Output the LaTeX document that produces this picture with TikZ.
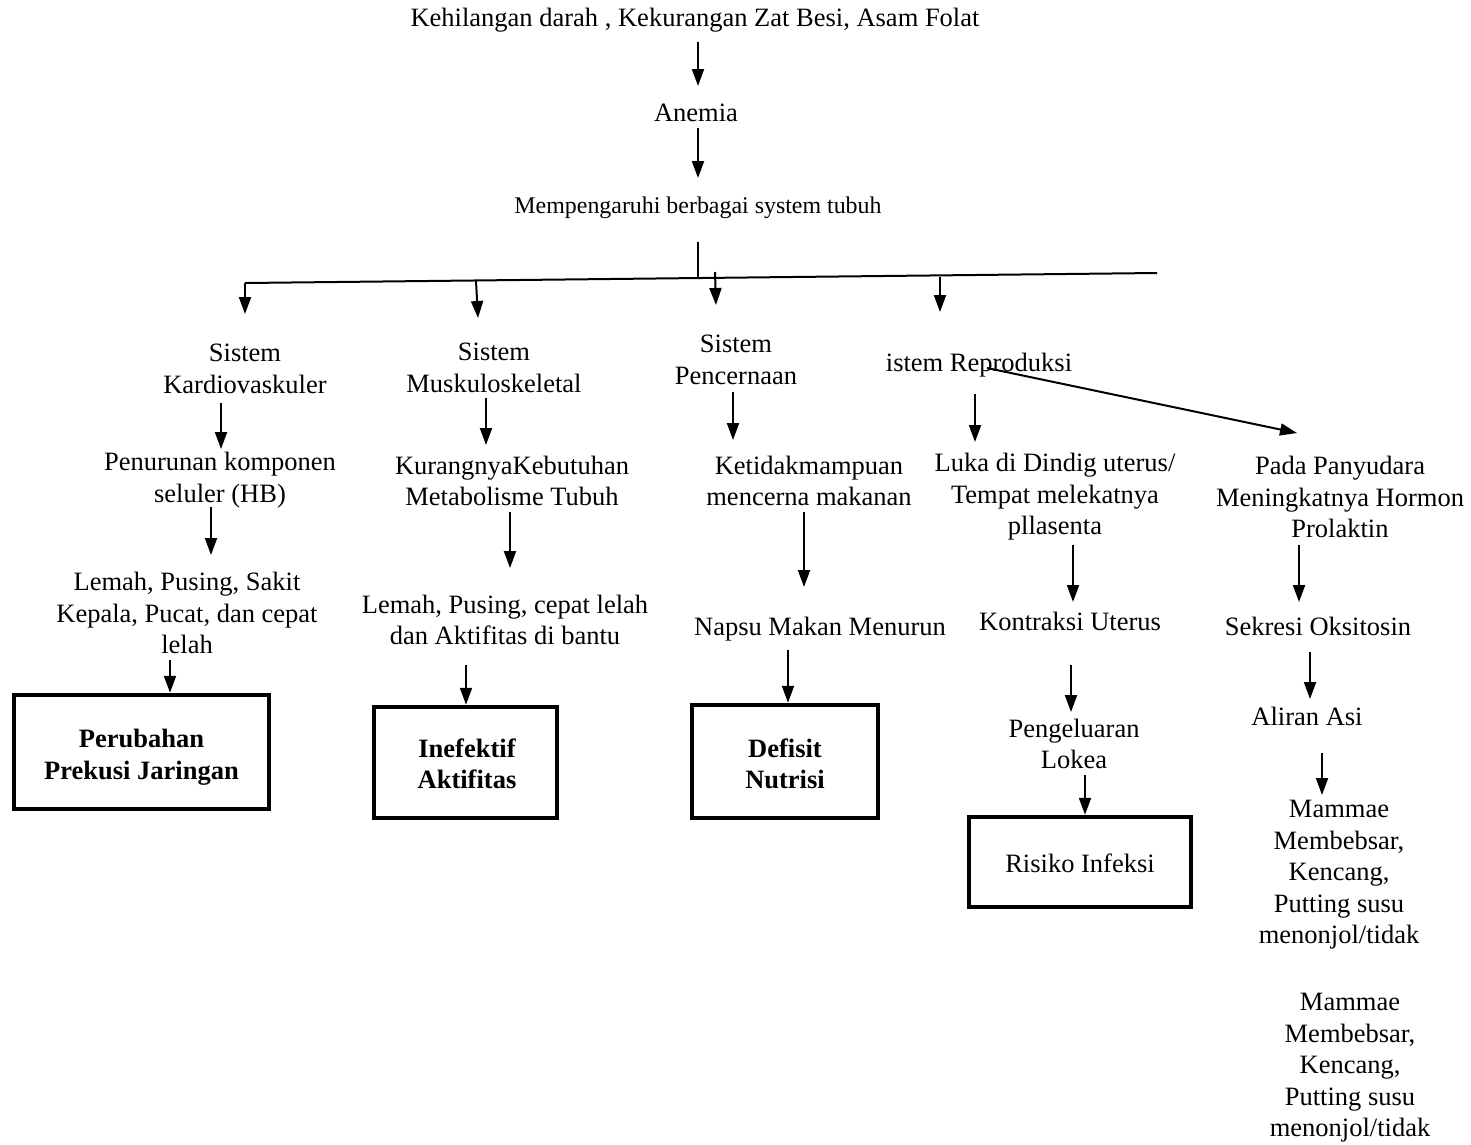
\documentclass[tikz,border=0pt]{standalone}
\usepackage{fontspec}
\setmainfont{Liberation Serif}
\usetikzlibrary{arrows.meta}
\begin{document}
\begin{tikzpicture}[x=1pt,y=-1pt,
  lbl/.style={align=center,inner sep=0pt,font=\fontsize{26.5}{31.5}\selectfont},
  small/.style={align=center,inner sep=0pt,font=\fontsize{23.9}{28}\selectfont},
  boxnode/.style={draw,line width=4.5pt,inner sep=0pt},
  arr/.style={line width=2pt,-{Triangle[length=17pt,width=12pt]}},
  ln/.style={line width=2pt}]
\useasboundingbox (0,0) rectangle (1471,1144);

% texts
\node[lbl] (t1) at (695,20) {Kehilangan darah , Kekurangan Zat Besi, Asam Folat};
\node[lbl] (t2) at (696,113) {Anemia};
\node[small] (t3) at (698,208) {Mempengaruhi berbagai system tubuh};

\node[lbl] (s1) at (245,369) {Sistem\\Kardiovaskuler};
\node[lbl] (s2) at (494,368) {Sistem\\Muskuloskeletal};
\node[lbl] (s3) at (736,360) {Sistem\\Pencernaan};
\node[lbl] (s4) at (979,365) {istem Reproduksi};

\node[lbl] (a1) at (220,480) {Penurunan komponen\\seluler (HB)};
\node[lbl] (a2) at (512,481) {KurangnyaKebutuhan\\Metabolisme Tubuh};
\node[lbl] (a3) at (809,481) {Ketidakmampuan\\mencerna makanan};
\node[lbl] (a4) at (1055,497) {Luka di Dindig uterus/\\Tempat melekatnya\\pllasenta};
\node[lbl] (a5) at (1340,497) {Pada Panyudara\\Meningkatnya Hormon\\Prolaktin};

\node[lbl] (b1) at (187,613) {Lemah, Pusing, Sakit\\Kepala, Pucat, dan cepat\\lelah};
\node[lbl] (b2) at (505,620) {Lemah, Pusing, cepat lelah\\dan Aktifitas di bantu};
\node[lbl] (b3) at (820,629) {Napsu Makan Menurun};
\node[lbl] (b4) at (1070,621) {Kontraksi Uterus};
\node[lbl] (b5) at (1318,626) {Sekresi Oksitosin};

\node[boxnode,minimum width=255pt,minimum height=114pt] (c1) at (141.5,752) {};
\node[lbl,font=\fontsize{26.5}{31.5}\selectfont\bfseries] (c1t) at (141.5,757) {Perubahan\\Prekusi Jaringan};
\node[boxnode,minimum width=183pt,minimum height=111pt] (c2) at (465.5,762.5) {};
\node[lbl,font=\fontsize{26.5}{31.5}\selectfont\bfseries] (c2t) at (467,764) {Inefektif\\Aktifitas};
\node[boxnode,minimum width=186pt,minimum height=113pt] (c3) at (785,761.5) {};
\node[lbl,font=\fontsize{26.5}{31.5}\selectfont\bfseries] (c3t) at (785,764) {Defisit\\Nutrisi};

\node[lbl] (d4) at (1074,744) {Pengeluaran\\Lokea};
\node[boxnode,minimum width=222pt,minimum height=90pt] (c4) at (1080,862) {};
\node[lbl] (c4t) at (1080,863) {Risiko Infeksi};

\node[lbl] (d5) at (1307,716) {Aliran Asi};
\node[lbl] (e5) at (1339,875) {Mammae\\Membebsar,\\Kencang,\\Putting susu\\menonjol/tidak};
\node[lbl] (f5) at (1350,1068) {Mammae\\Membebsar,\\Kencang,\\Putting susu\\menonjol/tidak};

% coordinates
\coordinate (p1a) at (698,42);  \coordinate (p1b) at (698,86);
\coordinate (p2a) at (698,128); \coordinate (p2b) at (698,178);
\coordinate (stemT) at (698,242); \coordinate (stemB) at (698,277);
\coordinate (hL) at (245,283); \coordinate (hR) at (1157,273);
\coordinate (h1) at (245,314); \coordinate (h1s) at (245,283);
\coordinate (h2s) at (476,281); \coordinate (h2) at (478,318);
\coordinate (h3s) at (715,272); \coordinate (h3) at (716,305);
\coordinate (h4s) at (940,277); \coordinate (h4) at (940,312);

\coordinate (q1a) at (221,403); \coordinate (q1b) at (221,449);
\coordinate (q2a) at (486,398); \coordinate (q2b) at (486,445);
\coordinate (q3a) at (733,392); \coordinate (q3b) at (733,440);
\coordinate (q4a) at (975,394); \coordinate (q4b) at (975,442);
\coordinate (q5a) at (987,368); \coordinate (q5b) at (1297,433);

\coordinate (r1a) at (211,507); \coordinate (r1b) at (211,555);
\coordinate (r2a) at (510,512); \coordinate (r2b) at (510,568);
\coordinate (r3a) at (804,512); \coordinate (r3b) at (804,587);
\coordinate (r4a) at (1073,545); \coordinate (r4b) at (1073,602);
\coordinate (r5a) at (1299,545); \coordinate (r5b) at (1299,602);

\coordinate (u1a) at (170,660);
\coordinate (u2a) at (466,665);
\coordinate (u3a) at (788,650);
\coordinate (u4a) at (1071,665); \coordinate (u4b) at (1071,712);
\coordinate (u5a) at (1310,652); \coordinate (u5b) at (1310,699);
\coordinate (v4a) at (1085,775);
\coordinate (v5a) at (1322,753); \coordinate (v5b) at (1322,795);

% connectors
\draw[arr] (p1a) -- (p1b);
\draw[arr] (p2a) -- (p2b);
\draw[ln] (stemT) -- (stemB);
\draw[ln] (hL) -- (hR);
\draw[arr] (h1s) -- (h1);
\draw[arr] (h2s) -- (h2);
\draw[arr] (h3s) -- (h3);
\draw[arr] (h4s) -- (h4);

\draw[arr] (q1a) -- (q1b);
\draw[arr] (q2a) -- (q2b);
\draw[arr] (q3a) -- (q3b);
\draw[arr] (q4a) -- (q4b);
\draw[arr] (q5a) -- (q5b);

\draw[arr] (r1a) -- (r1b);
\draw[arr] (r2a) -- (r2b);
\draw[arr] (r3a) -- (r3b);
\draw[arr] (r4a) -- (r4b);
\draw[arr] (r5a) -- (r5b);

\draw[arr] (u1a) -- (u1a |- c1.north);
\draw[arr] (u2a) -- (u2a |- c2.north);
\draw[arr] (u3a) -- (u3a |- c3.north);
\draw[arr] (u4a) -- (u4b);
\draw[arr] (u5a) -- (u5b);
\draw[arr] (v4a) -- (v4a |- c4.north);
\draw[arr] (v5a) -- (v5b);
\end{tikzpicture}
\end{document}
